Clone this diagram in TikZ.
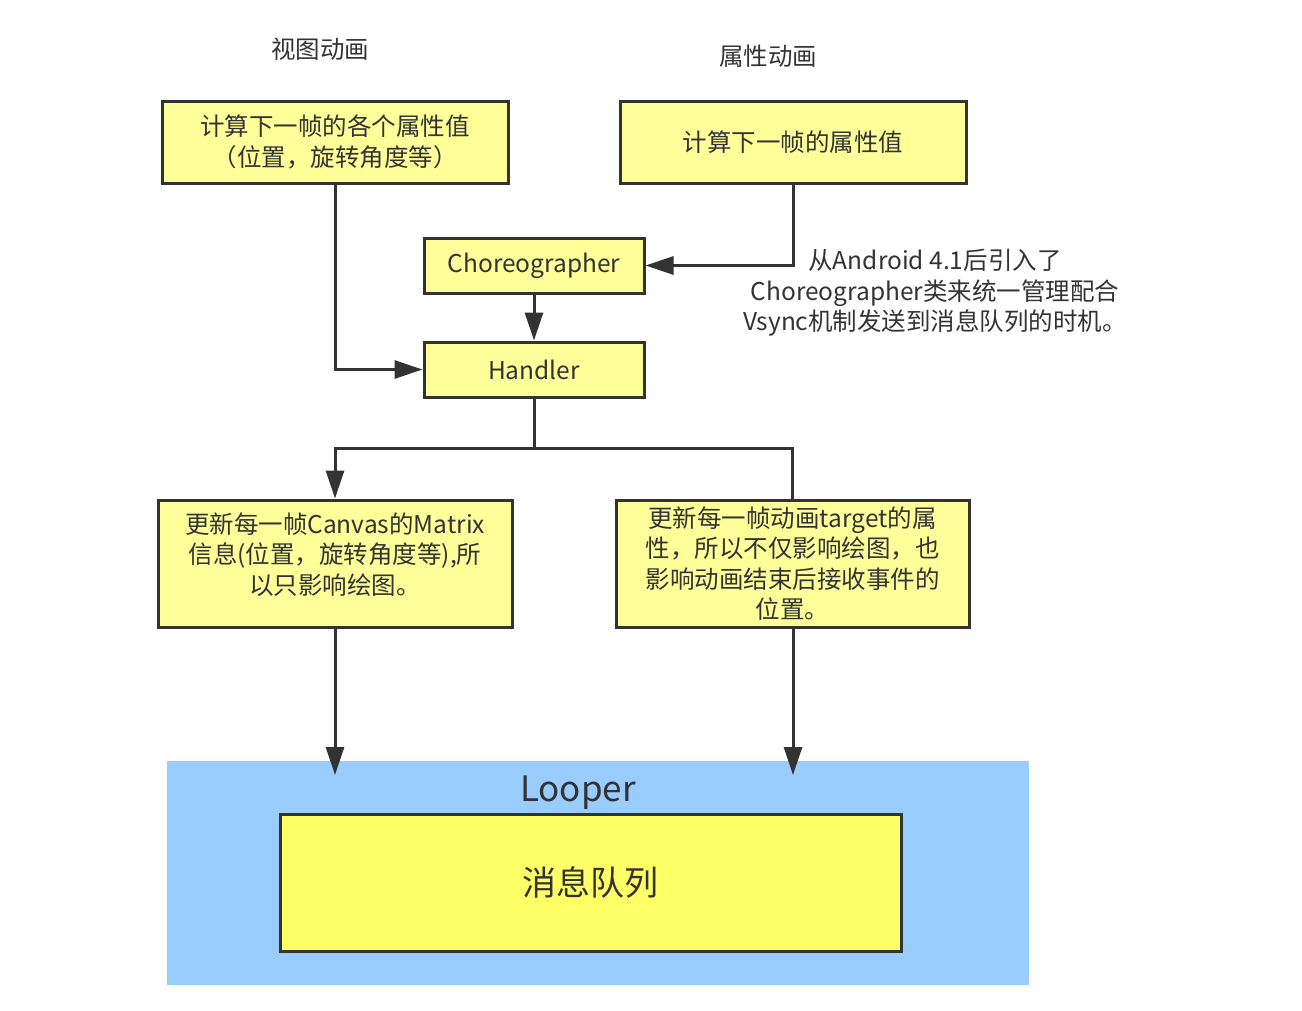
\documentclass[tikz,border=0pt]{standalone}
\usepackage{fontspec}
\setmainfont{Noto Sans CJK SC}
\usetikzlibrary{arrows.meta}
\definecolor{paleyel}{HTML}{FFFF99}
\definecolor{queueyel}{HTML}{FFFF66}
\definecolor{skyblue}{HTML}{99CCFF}
\definecolor{ink}{HTML}{333333}

\begin{document}
\begin{tikzpicture}[x=1pt,y=-1pt,text=ink,font=\fontsize{24.5pt}{30.5pt}\selectfont,
  box/.style={draw=ink, line width=3pt, fill=paleyel, align=center, inner sep=0pt},
  conn/.style={draw=ink, line width=3pt},
  arr/.style={conn, -{Triangle[length=28pt,width=18pt]}}]
  \useasboundingbox (0,0) rectangle (1302,1010);
  \node (viewtitle) at (320,49) {视图动画};
  \node (proptitle) at (768,56) {属性动画};
  \node[box, minimum width=346pt, minimum height=82pt] (viewcalc) at (335,142) {计算下一帧的各个属性值\\（位置，旋转角度等）};
  \node[box, minimum width=346pt, minimum height=82pt] (propcalc) at (793,142) {计算下一帧的属性值};
  \node[box, minimum width=220pt, minimum height=55pt] (choreo) at (534,265.5) {Choreographer};
  \node[box, minimum width=220pt, minimum height=55pt] (handler) at (534,369.5) {Handler};
  \node[align=center] (note) at (935,293) {从Android 4.1后引入了\\Choreographer类来统一管理配合\\Vsync机制发送到消息队列的时机。};
  \node[box, minimum width=354pt, minimum height=127pt, text depth=20pt] (canvasupd) at (335,563.5) {更新每一帧Canvas的Matrix\\信息(位置，旋转角度等),所\\以只影响绘图。};
  \node[box, minimum width=353pt, minimum height=127pt] (targetupd) at (792.5,563.5) {更新每一帧动画target的属\\性，所以不仅影响绘图，也\\影响动画结束后接收事件的\\位置。};
  \node[fill=skyblue, minimum width=862pt, minimum height=224pt, inner sep=0pt] (looper) at (598,873) {};
  \node[font=\fontsize{35pt}{40pt}\selectfont] (looperlbl) at (578,793) {Looper};
  \node[box, fill=queueyel, minimum width=621pt, minimum height=137pt, font=\fontsize{34pt}{40pt}\selectfont] (queue) at (590.5,882.5) {消息队列};
  \coordinate (split) at (534,448);
  \coordinate (inleft) at (335,775);
  \coordinate (inright) at (793,775);
  \draw[arr] (viewcalc.south) |- (handler.west);
  \draw[arr] (propcalc.south) |- (choreo.east);
  \draw[arr] (choreo) -- (handler);
  \draw[conn] (handler.south) -- (split) -| (targetupd.north);
  \draw[arr] (split) -| (canvasupd.north);
  \draw[arr] (canvasupd.south) -- (inleft);
  \draw[arr] (targetupd.south -| inright) -- (inright);
\end{tikzpicture}
\end{document}
